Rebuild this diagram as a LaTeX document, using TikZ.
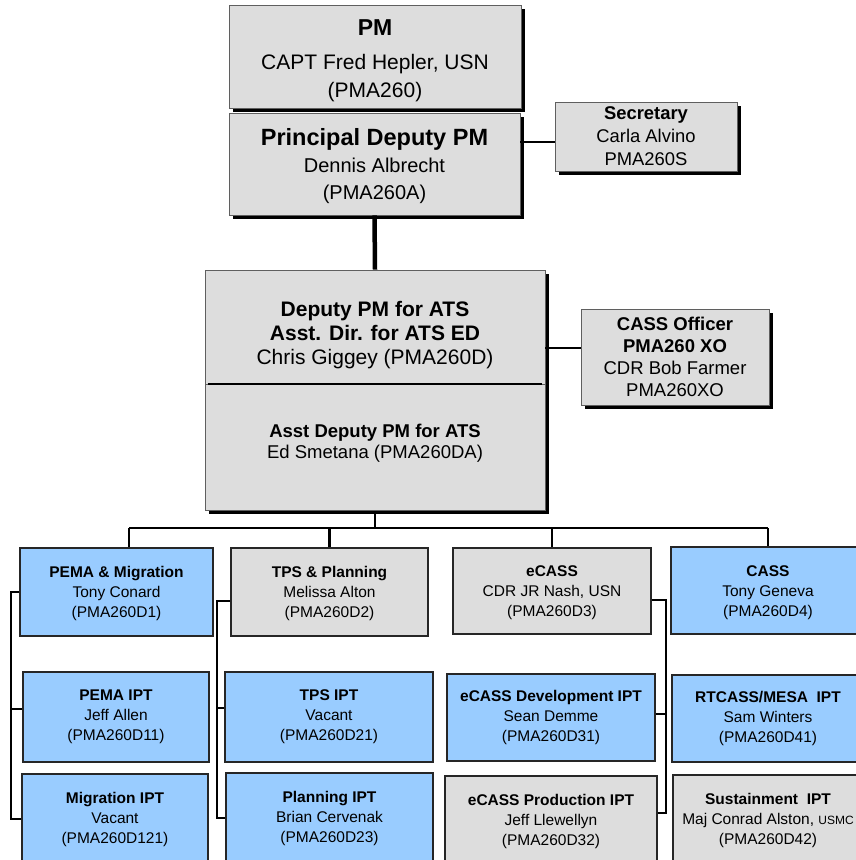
\documentclass[tikz,border=0pt]{standalone}
\usepackage{fontspec}
\setmainfont{Liberation Sans}
\usetikzlibrary{shadows,positioning,calc}
\definecolor{boxgrey}{RGB}{221,221,221}
\definecolor{boxblue}{RGB}{153,204,255}
\definecolor{edgegrey}{RGB}{95,95,95}
\newcommand{\fs}[2]{\fontsize{#1}{#2}\selectfont}

\begin{document}
\begin{tikzpicture}[x=1pt, y=-1pt,
    head/.style={draw=edgegrey, line width=0.9pt, fill=boxgrey, inner sep=0pt, align=center,
      drop shadow={fill=black, opacity=1, shadow xshift=3.5pt, shadow yshift=-3.5pt}},
    team/.style={draw=black!85, line width=1.7pt, inner sep=0pt, align=center, font=\fs{15.5}{20}},
    teamgrey/.style={team, fill=boxgrey},
    teamblue/.style={team, fill=boxblue},
    link/.style={line width=1.8pt},
    bus/.style={line width=2.5pt},
    bracket/.style={line width=2.6pt},
    trunk/.style={line width=4.5pt}]
  \useasboundingbox (0,0) rectangle (856,860);
  \clip (0,0) rectangle (856,860);

  % Front office
  \node[head, minimum width=292pt, minimum height=103pt, font=\fs{21}{28}] (pm) at (375,56.5)
    {\rule{0pt}{24.5pt}{\fs{23}{28}\bfseries PM}\\[6pt] CAPT Fred Hepler, USN\\ (PMA260)};
  \node[head, minimum width=291pt, minimum height=102pt, font=\fs{20}{27}] (pd) at (374.5,164)
    {\rule{0pt}{21pt}{\fs{23.5}{27}\bfseries Principal Deputy PM}\\ Dennis Albrecht\\ (PMA260A)};
  \node[head, minimum width=182pt, minimum height=69pt, font=\fs{18.4}{23}] (sec) at (646,136.5)
    {\textbf{Secretary}\\ Carla Alvino\\ PMA260S};

  % Deputy PM, split in two
  \node[head, minimum width=340pt, minimum height=114pt, font=\fs{21}{24}] (dpm) at (375,327)
    {\rule{0pt}{31pt}\textbf{Deputy PM for ATS}\\ \textbf{Asst. Dir. for ATS ED}\\ Chris Giggey (PMA260D)};
  \node[head, minimum width=340pt, minimum height=126pt, font=\fs{18.5}{21}, below=0pt of dpm] (adpm)
    {\textbf{Asst Deputy PM for ATS}\\ Ed Smetana (PMA260DA)\rule[-12.4pt]{0pt}{0pt}};
  \draw[line width=2pt] ([xshift=3pt]dpm.south west) -- ([xshift=-3pt]dpm.south east);
  \node[head, minimum width=188pt, minimum height=96pt, font=\fs{18.5}{22}] (xo) at (675,357)
    {\textbf{CASS Officer}\\ \textbf{PMA260 XO}\\ CDR Bob Farmer\\ PMA260XO};

  \draw[trunk] (pd.south) -- (dpm.north);
  \coordinate (secjoin) at ($(sec.west)+(0,5.5)$);
  \draw[link] (secjoin) -- (secjoin -| pd.east);
  \coordinate (xojoin) at ($(xo.west)+(0,-9)$);
  \draw[link] (xojoin) -- (xojoin -| dpm.east);

  % Teams
  \node[teamblue, minimum width=193pt, minimum height=88pt] (pema) at (116.5,592)
    {\rule{0pt}{15pt}\textbf{PEMA \& Migration}\\ Tony Conard\\ (PMA260D1)};
  \node[teamgrey, minimum width=197pt, minimum height=88pt] (tps) at (329.5,592)
    {\rule{0pt}{15pt}\textbf{TPS \& Planning}\\ Melissa Alton\\ (PMA260D2)};
  \node[teamgrey, minimum width=198pt, minimum height=86pt] (ecass) at (552,591)
    {\rule{0pt}{15pt}\textbf{eCASS}\\ CDR JR Nash, USN\\ (PMA260D3)};
  \node[teamblue, minimum width=194pt, minimum height=87pt] (cass) at (768,590.5)
    {\rule{0pt}{15pt}\textbf{CASS}\\ Tony Geneva\\ (PMA260D4)};

  % IPTs
  \node[teamblue, minimum width=186pt, minimum height=90pt] (pemaipt) at (116,717)
    {\textbf{PEMA IPT}\\ Jeff Allen\\ (PMA260D11)};
  \node[teamblue, minimum width=208pt, minimum height=90pt] (tpsipt) at (329,717)
    {\textbf{TPS IPT}\\ Vacant\\ (PMA260D21)};
  \node[teamblue, minimum width=208pt, minimum height=87pt] (devipt) at (551,717.5)
    {\textbf{eCASS Development IPT}\\ Sean Demme\\ (PMA260D31)};
  \node[teamblue, minimum width=192pt, minimum height=87pt] (rtipt) at (768,718.5)
    {\textbf{RTCASS/MESA\ \ IPT}\\ Sam Winters\\ (PMA260D41)};
  \node[teamblue, minimum width=186pt, minimum height=90pt] (migipt) at (115,819)
    {\textbf{Migration IPT}\\ Vacant\\ (PMA260D121)};
  \node[teamblue, minimum width=207pt, minimum height=90pt] (planipt) at (329.5,818)
    {\textbf{Planning IPT}\\ Brian Cervenak\\ (PMA260D23)};
  \node[teamgrey, minimum width=212pt, minimum height=90pt] (prodipt) at (551,821)
    {\textbf{eCASS Production IPT}\\ Jeff Llewellyn\\ (PMA260D32)};
  \node[teamgrey, minimum width=190pt, minimum height=90pt] (susipt) at (768,820)
    {\textbf{Sustainment\ \ IPT}\\ Maj Conrad Alston, {\fs{12}{14}USMC}\\ (PMA260D42)};

  % bus to the teams
  \coordinate (busL) at (129,528);
  \coordinate (busR) at (768,528);
  \draw[bus] (busL) -- (busR);
  \draw[bus] (adpm.south) -- (adpm.south |- busL);
  \draw[bus] (busL) -- (busL |- pema.north);
  \draw[bus] (tps.north |- busL) -- (tps.north);
  \draw[bus] (ecass.north |- busL) -- (ecass.north);
  \draw[bus] (busR) -- (cass.north);

  % brackets
  \draw[bracket] (pema.west) -- ++(-8,0) |- (migipt.west);
  \draw[bracket] ([yshift=8pt]pemaipt.west) -- ++(-11,0);
  \draw[bracket] ([yshift=-9pt]tps.west) -- ++(-13,0) |- (planipt.west);
  \draw[bracket] ([yshift=9pt]tpsipt.west) -- ++(-7,0);
  \draw[bracket] ([yshift=-9pt]ecass.east) -- ++(14,0) |- ([yshift=8pt]prodipt.east);
  \draw[bracket] ([yshift=3.5pt]devipt.east) -- ++(10,0);
\end{tikzpicture}
\end{document}
